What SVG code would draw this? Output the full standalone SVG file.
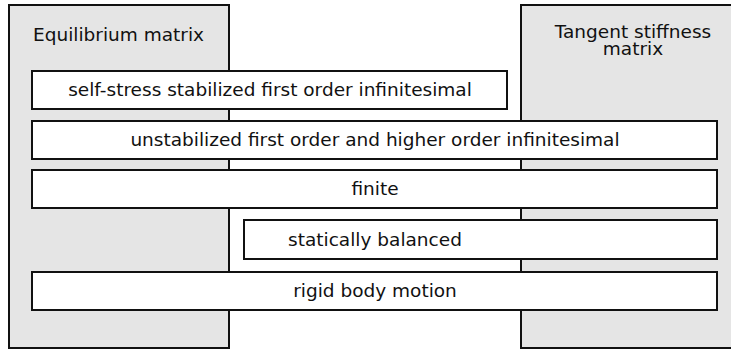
<svg xmlns="http://www.w3.org/2000/svg" width="731" height="351" viewBox="0 0 731 351">
<style>
.panel{fill:#e5e5e5;stroke:#111;stroke-width:2}
.bar{fill:#fff;stroke:#111;stroke-width:2}
text{font-family:"DejaVu Sans",sans-serif;font-size:18.5px;fill:#111}
.c{text-anchor:middle}
</style>
<g id="equilibrium">
<rect class="panel" x="9" y="5" width="220" height="343"/>
<text x="33" y="41">Equilibrium matrix</text>
</g>
<g id="tangent">
<rect class="panel" x="521" y="5" width="220" height="343"/>
<text class="c" x="633" y="38">Tangent stiffness</text>
<text class="c" x="633" y="55">matrix</text>
</g>
<g id="self-stress">
<rect class="bar" x="32" y="71" width="475" height="38"/>
<text class="c" x="270" y="96">self-stress stabilized first order infinitesimal</text>
</g>
<g id="unstabilized">
<rect class="bar" x="32" y="121" width="685" height="38"/>
<text class="c" x="375" y="146">unstabilized first order and higher order infinitesimal</text>
</g>
<g id="finite">
<rect class="bar" x="32" y="170" width="685" height="38"/>
<text class="c" x="375" y="195">finite</text>
</g>
<g id="statically">
<rect class="bar" x="244" y="220" width="473" height="39"/>
<text class="c" x="375" y="246">statically balanced</text>
</g>
<g id="rigid">
<rect class="bar" x="32" y="272" width="685" height="38"/>
<text class="c" x="375" y="297">rigid body motion</text>
</g>
<g id="connectors"/>
</svg>
